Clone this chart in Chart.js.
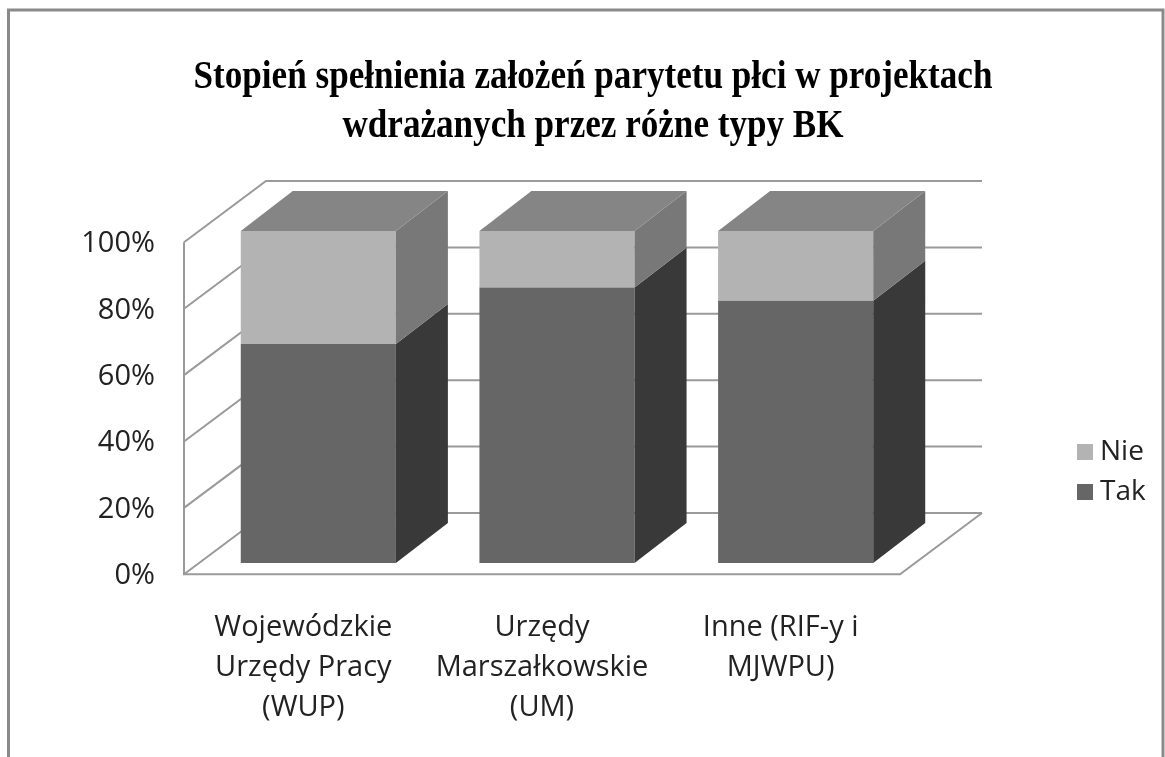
<!DOCTYPE html>
<html>
<head>
<meta charset="utf-8">
<script src="https://cdn.jsdelivr.net/npm/chart.js@4/dist/chart.umd.min.js"></script>
<style>
  html, body { margin: 0; padding: 0; background: #ffffff; }
  #wrap { width: 1165px; height: 757px; position: relative; }
</style>
</head>
<body>
<div id="wrap"><canvas id="chart"></canvas></div>
<script>
var categories = [
    ['Wojewódzkie', 'Urzędy Pracy', '(WUP)'],
    ['Urzędy', 'Marszałkowskie', '(UM)'],
    ['Inne (RIF-y i', 'MJWPU)']
];
var takValues = [66, 83, 79];
var nieValues = [34, 17, 21];
var yTicks = [0, 20, 40, 60, 80, 100];

var titleLines = ['Stopień spełnienia założeń parytetu płci w projektach', 'wdrażanych przez różne typy BK'];

// side colours for the 3D faces
var sideColors = ['#393939', '#787878'];
var topColor = '#858585';
var wallColor = '#9a9a9a';

// offsets of the front plane and back wall from the bar plane
var depth = { fx: -15, fy: 11.3, bx: 67, by: -50, dx: 52, dy: -40 };

var box3d = {
    id: 'box3d',
    beforeDraw: function (chart) {
        var ctx = chart.ctx;
        ctx.save();
        ctx.strokeStyle = '#8a8a8a';
        ctx.lineWidth = 3;
        ctx.beginPath();
        ctx.moveTo(8.5, 800);
        ctx.lineTo(8.5, 10);
        ctx.lineTo(1163, 10);
        ctx.lineTo(1163, 800);
        ctx.stroke();

        // title, slightly condensed like the original
        ctx.fillStyle = '#000000';
        ctx.font = 'bold 39px "Liberation Serif"';
        ctx.textAlign = 'center';
        ctx.textBaseline = 'middle';
        ctx.scale(0.9, 1);
        titleLines.forEach(function (line, i) {
            ctx.fillText(line, 593 / 0.9, 78 + i * 49);
        });
        ctx.restore();
    },
    beforeDatasetsDraw: function (chart) {
        var ctx = chart.ctx;
        var area = chart.chartArea;
        var y = chart.scales.y;
        var y0 = y.getPixelForValue(0);
        var y100 = y.getPixelForValue(100);
        ctx.save();
        ctx.strokeStyle = wallColor;
        ctx.lineWidth = 2;
        yTicks.forEach(function (v) {
            var py = y.getPixelForValue(v);
            ctx.beginPath();
            ctx.moveTo(area.left + depth.fx, py + depth.fy);
            ctx.lineTo(area.left + depth.bx, py + depth.by);
            ctx.lineTo(area.right + depth.bx, py + depth.by);
            ctx.stroke();
        });
        ctx.beginPath();
        ctx.moveTo(area.left + depth.fx, y100 + depth.fy);
        ctx.lineTo(area.left + depth.fx, y0 + depth.fy);
        ctx.lineTo(area.right + depth.fx, y0 + depth.fy);
        ctx.lineTo(area.right + depth.bx, y0 + depth.by);
        ctx.stroke();
        ctx.restore();
    },
    afterDatasetsDraw: function (chart) {
        var ctx = chart.ctx;
        var last = chart.data.datasets.length - 1;
        ctx.save();
        chart.data.datasets.forEach(function (ds, di) {
            var meta = chart.getDatasetMeta(di);
            meta.data.forEach(function (bar) {
                var left = bar.x - bar.width / 2;
                var right = bar.x + bar.width / 2;
                var top = bar.y;
                var bottom = bar.base;
                ctx.fillStyle = sideColors[di];
                ctx.beginPath();
                ctx.moveTo(right, top);
                ctx.lineTo(right + depth.dx, top + depth.dy);
                ctx.lineTo(right + depth.dx, bottom + depth.dy);
                ctx.lineTo(right, bottom);
                ctx.closePath();
                ctx.fill();
                if (di == last) {
                    ctx.fillStyle = topColor;
                    ctx.beginPath();
                    ctx.moveTo(left, top);
                    ctx.lineTo(left + depth.dx, top + depth.dy);
                    ctx.lineTo(right + depth.dx, top + depth.dy);
                    ctx.lineTo(right, top);
                    ctx.closePath();
                    ctx.fill();
                }
            });
        });

        // legend, Nie above Tak
        ctx.font = '28px "Open Sans"';
        ctx.textBaseline = 'middle';
        ctx.textAlign = 'left';
        var ly = 452;
        for (var i = last; i >= 0; i--) {
            var d = chart.data.datasets[i];
            ctx.fillStyle = d.backgroundColor;
            ctx.fillRect(1077, ly - 8, 16, 16);
            ctx.fillStyle = '#222222';
            ctx.fillText(d.label, 1100, ly);
            ly += 40;
        }
        ctx.restore();
    }
};

var ctx = document.getElementById('chart').getContext('2d');
var myChart = new Chart(ctx, {
    type: 'bar',
    data: {
        labels: categories,
        datasets: [{
            label: 'Tak',
            data: takValues,
            backgroundColor: '#666666',
            categoryPercentage: 1,
            barPercentage: 0.65
        }, {
            label: 'Nie',
            data: nieValues,
            backgroundColor: '#b3b3b3',
            categoryPercentage: 1,
            barPercentage: 0.65
        }]
    },
    options: {
        responsive: true,
        maintainAspectRatio: false,
        animation: false,
        layout: {
            padding: { left: 82, right: 250, top: 231, bottom: 29 }
        },
        plugins: {
            legend: { display: false },
            tooltip: { enabled: false },
            title: { display: false }
        },
        scales: {
            x: {
                stacked: true,
                grid: { display: false },
                border: { display: false },
                afterFit: function (scale) {
                    scale.height = 165;
                },
                ticks: {
                    color: '#222222',
                    font: { family: '"Open Sans"', size: 29, lineHeight: '40px' },
                    padding: 37,
                    labelOffset: -15,
                    maxRotation: 0,
                    autoSkip: false
                }
            },
            y: {
                stacked: true,
                min: 0,
                max: 100,
                grid: { display: false },
                border: { display: false },
                afterFit: function (scale) {
                    scale.width = 117;
                },
                ticks: {
                    stepSize: 20,
                    color: '#222222',
                    font: { family: '"Open Sans"', size: 29 },
                    padding: 36,
                    labelOffset: 13,
                    callback: function (value) {
                        return value + '%';
                    }
                }
            }
        }
    },
    plugins: [box3d]
});
</script>
</body>
</html>
